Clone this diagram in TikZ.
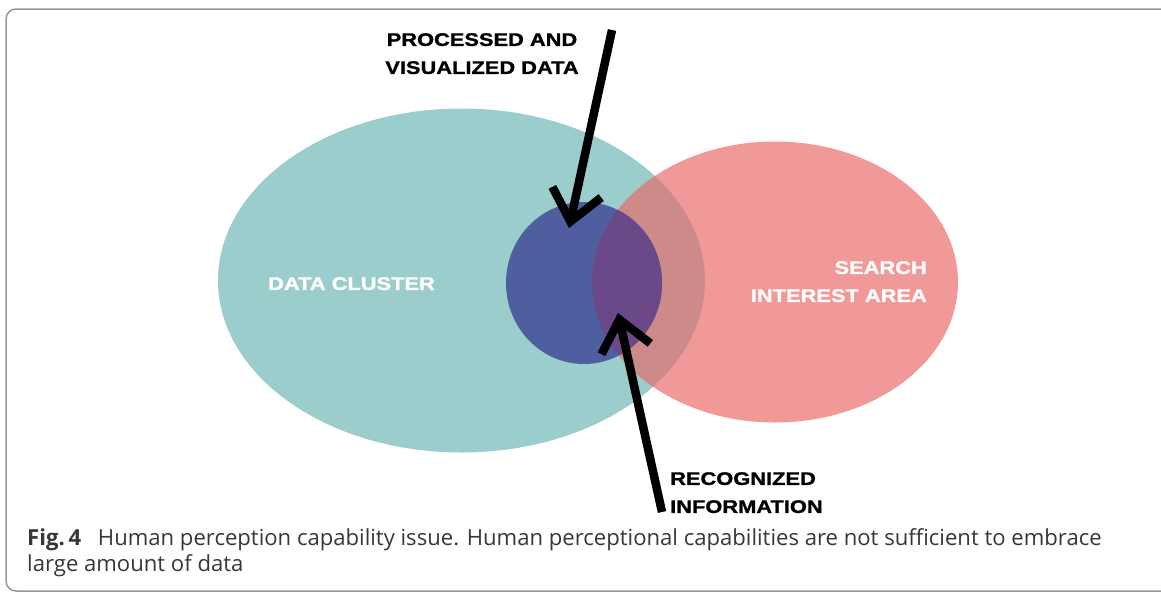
\documentclass[tikz,border=0pt]{standalone}
\usepackage{fontspec}
\usetikzlibrary{arrows.meta}
\newfontfamily\lblfont[FakeStretch=1.2, FakeBold=1.2]{Liberation Sans}
\newfontfamily\capfont{Open Sans}
\definecolor{clustercol}{RGB}{155,205,205}
\definecolor{searchcol}{RGB}{241,153,153}
\definecolor{bothcol}{RGB}{204,139,136}
\definecolor{visualcol}{RGB}{79,94,159}
\definecolor{infocol}{RGB}{107,72,135}
\definecolor{framecol}{RGB}{150,150,150}
\definecolor{captioncol}{RGB}{55,55,55}

\begin{document}
\begin{tikzpicture}[x=1pt, y=-1pt,
  lbl/.style={inner sep=0pt, font=\lblfont\bfseries\fontsize{18.2}{28}\selectfont},
  bigarrow/.style={line width=8.5pt, -{Straight Barb[length=30pt, width=50pt]}}]
  \useasboundingbox (0,0) rectangle (1161,592);
  \clip (0,0) rectangle (1161,592);
  \draw[framecol, line width=1.5pt, rounded corners=10pt] (6,9) rectangle (1175,591);

  % sets
  \fill[clustercol] (461.5,280.5) ellipse (243.5 and 172);
  \fill[searchcol] (775,282) ellipse (183 and 140.5);
  \begin{scope}
    \clip (461.5,280.5) ellipse (243.5 and 172);
    \fill[bothcol] (775,282) ellipse (183 and 140.5);
  \end{scope}
  \fill[visualcol] (584,283) ellipse (78 and 81);
  \begin{scope}
    \clip (584,283) ellipse (78 and 81);
    \fill[infocol] (775,282) ellipse (183 and 140.5);
  \end{scope}

  \node[lbl, anchor=north west, text=white] (B) at (268,277) {DATA CLUSTER};
  \node[lbl, anchor=north east, align=right, text=white] (C) at (927,261) {SEARCH\\INTEREST AREA};

  % arrows
  \node[lbl, anchor=north, align=center] (A) at (482,33) {PROCESSED AND\\VISUALIZED DATA};
  \node[lbl, anchor=north west, align=left] (D) at (670,472) {RECOGNIZED\\INFORMATION};
  \coordinate (P) at (612,30);
  \coordinate (Q) at (569,228);
  \coordinate (R) at (662,512);
  \coordinate (S) at (618,313);
  \draw[bigarrow] (P) -- (Q);
  \draw[bigarrow] (R) -- (S);

  \node[anchor=north west, inner sep=0pt, align=left, text=captioncol,
    font=\capfont\fontsize{22.1}{26}\selectfont] (E) at (27,528)
    {\textbf{Fig.\,4}\hspace{0.5em} Human perception capability issue. Human perceptional capabilities are not sufficient to embrace\\large amount of data};
\end{tikzpicture}
\end{document}
